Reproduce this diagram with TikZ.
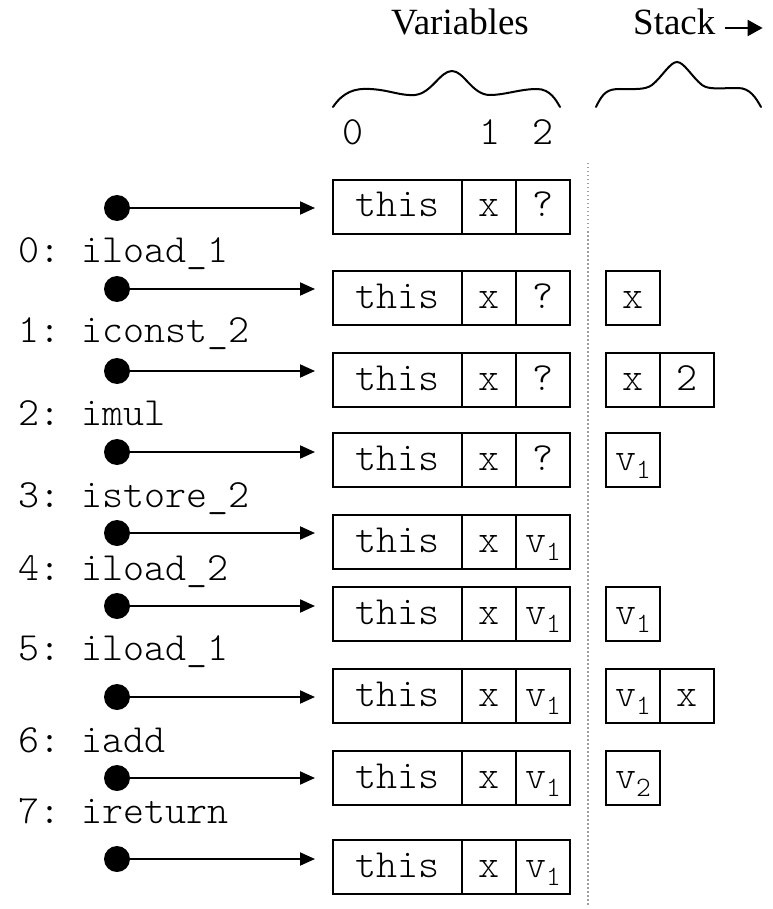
\documentclass[tikz,border=0pt]{standalone}
\usepackage{fontspec}
\setmainfont{Liberation Serif}
\setmonofont{lmmonolt10-regular.otf}
\usetikzlibrary{arrows.meta}

% v with a lowered subscript digit
\newcommand{\vsub}[1]{v\raisebox{-8pt}{\fontsize{28}{28}\selectfont #1}}

\begin{document}
\begin{tikzpicture}[x=1pt,y=-1pt,
  code/.style={font={\fontsize{40}{46}\selectfont\ttfamily}},
  head/.style={font={\fontsize{37}{42}\selectfont\rmfamily}, inner sep=0pt},
  cell/.style={code, draw, line width=2pt, inner sep=0pt, outer sep=0pt,
               minimum height=54pt, minimum width=54pt,
               text height=25pt, text depth=5pt},
  widecell/.style={cell, minimum width=129pt},
  pc/.style={circle, fill=black, inner sep=0pt, minimum size=26pt},
  steparrow/.style={line width=2pt, -{Triangle[length=15pt,width=13pt]}, shorten >=18pt},
  oplabel/.style={code, anchor=base west, inner sep=0pt},
  brace/.style={line width=2pt, line cap=round}]

\useasboundingbox (0,0) rectangle (772,909);

% column headings
\node[head, anchor=base] (hvar) at (460,35) {Variables};
\node[head, anchor=base west] (hstack) at (633,35) {Stack};
\draw[line width=2pt, -{Triangle[length=15pt,width=16pt]}]
  (hstack.base east) ++(9,-7) -- ++(38,0);

% braces over the variable slots and the stack
\draw[brace] (333,107) .. controls (343,92) and (355,88) .. (370,89)
  .. controls (390,90) and (400,96) .. (415,95)
  .. controls (432,93) and (440,71) .. (452,71)
  .. controls (464,71) and (472,95) .. (490,95)
  .. controls (505,95) and (520,89) .. (537,89)
  .. controls (550,89) and (556,100) .. (560,107);
\draw[brace] (596,107) .. controls (603,92) and (608,89) .. (620,89)
  .. controls (635,89) and (645,90) .. (652,85)
  .. controls (662,77) and (670,62) .. (677,62)
  .. controls (684,62) and (692,77) .. (702,85)
  .. controls (709,90) and (720,88) .. (738,88)
  .. controls (750,88) and (756,98) .. (761,107);

% slot indices
\node[code, anchor=base, inner sep=0pt] (i0) at (353,145) {0};
\node[code, anchor=base, inner sep=0pt] (i1) at (490,145) {1};
\node[code, anchor=base, inner sep=0pt] (i2) at (543,145) {2};

% separator between locals and operand stack
\coordinate (septop) at (588,163);
\coordinate (sepbot) at (588,905);
\draw[gray!75, line width=1.5pt, dash pattern=on 1.5pt off 2.5pt] (septop) -- (sepbot);

% local variable frames after each instruction
\foreach \i/\by/\ay/\third in {0/207/208/?, 1/298/289/?, 2/380/371/?, 3/460/452/?,
                               4/542/533/\vsub{1}, 5/614/606/\vsub{1}, 6/696/697/\vsub{1},
                               7/778/778/\vsub{1}, 8/867/859/\vsub{1}} {
  \node[widecell, anchor=west] (v\i a) at (333,\by) {this};
  \node[cell, anchor=west] (v\i b) at (v\i a.east) {x};
  \node[cell, anchor=west] (v\i c) at (v\i b.east) {\third};
  \node[pc] (d\i) at (117,\ay) {};
  \draw[steparrow] (d\i.center) -- (d\i.center -| v\i a.west);
}

% operand stack contents
\node[cell, anchor=west] (s1a) at (606,298) {x};
\node[cell, anchor=west] (s2a) at (606,380) {x};
\node[cell, anchor=west] (s2b) at (s2a.east) {2};
\node[cell, anchor=west] (s3a) at (606,460) {\vsub{1}};
\node[cell, anchor=west] (s5a) at (606,614) {\vsub{1}};
\node[cell, anchor=west] (s6a) at (606,696) {\vsub{1}};
\node[cell, anchor=west] (s6b) at (s6a.east) {x};
\node[cell, anchor=west] (s7a) at (606,778) {\vsub{2}};

% bytecode instructions
\node[oplabel] (op0) at (18,262) {0: iload\_1};
\node[oplabel] (op1) at (18,342) {1: iconst\_2};
\node[oplabel] (op2) at (18,425) {2: imul};
\node[oplabel] (op3) at (18,507) {3: istore\_2};
\node[oplabel] (op4) at (18,580) {4: iload\_2};
\node[oplabel] (op5) at (18,660) {5: iload\_1};
\node[oplabel] (op6) at (18,752) {6: iadd};
\node[oplabel] (op7) at (18,823) {7: ireturn};

\end{tikzpicture}
\end{document}
